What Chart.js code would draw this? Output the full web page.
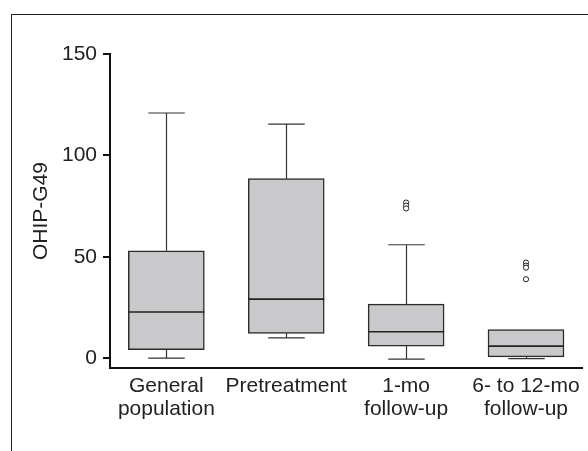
<!DOCTYPE html>
<html><head><meta charset="utf-8">
<script src="https://cdn.jsdelivr.net/npm/chart.js@4.4.1/dist/chart.umd.min.js"></script>
<style>
html,body{margin:0;padding:0;background:#fff;}
#wrap{position:relative;width:588px;height:451px;overflow:hidden;background:#fff;}
#frame{position:absolute;left:11px;top:14px;width:700px;height:600px;border:1px solid #222;}
canvas{position:absolute;left:0;top:0;}
</style></head><body>
<div id="wrap"><div id="frame"></div><canvas id="c" width="588" height="451"></canvas></div>
<script>
const categories = [["General","population"],["Pretreatment"],["1-mo","follow-up"],["6- to 12-mo","follow-up"]];
const whiskerLow = [0, 10, -0.5, -0.3];
const q1 = [4.1, 12.2, 5.9, 0.6];
const medians = [22.7, 29.1, 13, 5.9];
const q3 = [52.9, 88.5, 26.6, 14];
const whiskerHigh = [120.9, 115.4, 55.9, 14];
const outlierGroup = [2, 2, 2, 3, 3, 3, 3];
const outlierValues = [76.7, 75.2, 73.8, 47.1, 45.6, 44.6, 38.9];
const yTickValues = [0, 50, 100, 150];
const yTitle = "OHIP-G49";

Chart.defaults.font.family = "'Liberation Sans', Arial, sans-serif";
Chart.defaults.color = '#222';

const boxParts = {
  id: 'boxParts',
  afterDatasetsDraw(chart) {
    const meta = chart.getDatasetMeta(0);
    const y = chart.scales.y;
    const ctx = chart.ctx;
    ctx.save();
    meta.data.forEach((bar, i) => {
      const cx = Math.round(bar.x) + 0.5;
      const half = bar.width / 2;
      const capHalf = half * 0.48;
      ctx.strokeStyle = '#333';
      ctx.lineWidth = 1.2;
      ctx.beginPath();
      if (whiskerHigh[i] > q3[i]) {
        const yT = y.getPixelForValue(whiskerHigh[i]);
        ctx.moveTo(cx, y.getPixelForValue(q3[i]));
        ctx.lineTo(cx, yT);
        ctx.moveTo(cx - capHalf, yT);
        ctx.lineTo(cx + capHalf, yT);
      }
      if (whiskerLow[i] < q1[i]) {
        const yB = y.getPixelForValue(whiskerLow[i]);
        ctx.moveTo(cx, y.getPixelForValue(q1[i]));
        ctx.lineTo(cx, yB);
        ctx.moveTo(cx - capHalf, yB);
        ctx.lineTo(cx + capHalf, yB);
      }
      ctx.stroke();
      ctx.strokeStyle = '#222';
      ctx.lineWidth = 1.6;
      const yM = y.getPixelForValue(medians[i]);
      ctx.beginPath();
      ctx.moveTo(bar.x - half, yM);
      ctx.lineTo(bar.x + half, yM);
      ctx.stroke();
    });
    ctx.restore();
  }
};

new Chart(document.getElementById('c'), {
  type: 'bar',
  data: {
    datasets: [
      {
        type: 'bar',
        data: q1.map((v, i) => ({x: i, y: [q1[i], q3[i]]})),
        backgroundColor: '#c9c9cb',
        borderColor: '#2b2b2b',
        borderWidth: 1.5,
        borderSkipped: false,
        barThickness: 76,
        order: 2
      },
      {
        type: 'scatter',
        data: outlierValues.map((v, i) => ({x: outlierGroup[i], y: v})),
        pointStyle: 'circle',
        pointRadius: 2.6,
        pointBorderWidth: 1,
        pointBackgroundColor: '#fff',
        pointBorderColor: '#222',
        showLine: false,
        order: 1
      }
    ]
  },
  options: {
    responsive: false,
    devicePixelRatio: 1,
    animation: false,
    layout: {padding: {top: 54, left: 0, right: 6, bottom: 0}},
    plugins: {legend: {display: false}, tooltip: {enabled: false}},
    scales: {
      x: {
        type: 'linear',
        offset: false,
        bounds: 'data',
        min: -0.47,
        max: 3.467,
        afterBuildTicks: s => { s.ticks = categories.map((_, i) => ({value: i})); },
        afterFit: s => { s.height = 83; },
        ticks: {
          callback: v => categories[v],
          font: {size: 21, lineHeight: 1.12},
          color: '#222',
          padding: 6,
          maxRotation: 0,
          autoSkip: false
        },
        grid: {display: false, drawTicks: false, offset: false},
        border: {display: true, color: '#111', width: 2}
      },
      y: {
        type: 'linear',
        min: -4.9,
        max: 150,
        afterBuildTicks: s => { s.ticks = yTickValues.map(v => ({value: v})); },
        afterFit: s => { s.width = 110; },
        ticks: {font: {size: 21}, color: '#222', padding: 6},
        grid: {drawOnChartArea: false, drawTicks: true, tickLength: 7, color: '#111', lineWidth: 2},
        border: {display: true, color: '#111', width: 2},
        title: {display: true, text: yTitle, font: {size: 21, lineHeight: 1.2}, color: '#222', padding: {top: 29, bottom: 0}}
      }
    }
  },
  plugins: [boxParts]
});
</script>
</body></html>
